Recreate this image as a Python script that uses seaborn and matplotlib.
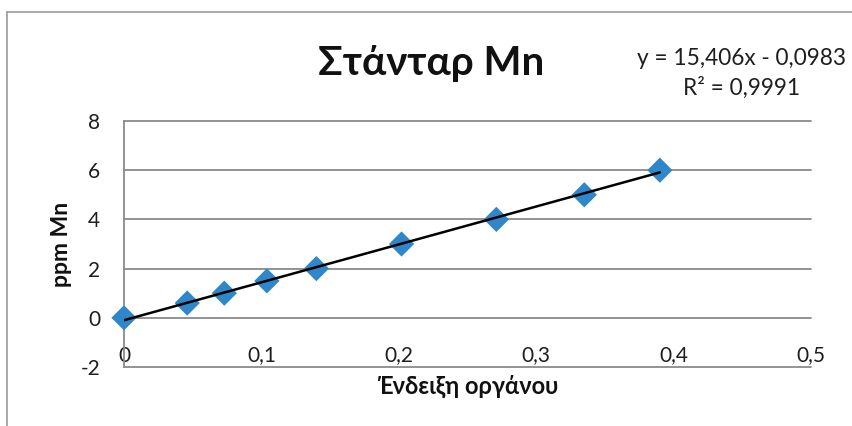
import numpy as np
import pandas as pd
import matplotlib
matplotlib.use("Agg")
import matplotlib.pyplot as plt
import seaborn as sns

# Calibration standard: instrument reading vs Mn concentration
reading = [0.0, 0.046, 0.073, 0.104, 0.140, 0.202, 0.271, 0.335, 0.390]
ppm_mn = [0.0, 0.6, 1.0, 1.5, 2.0, 3.0, 4.0, 5.0, 6.0]

# Linear trendline coefficients and fit quality
slope = 15.406
intercept = -0.0983
r_squared = 0.9991

x_ticks = [0, 0.1, 0.2, 0.3, 0.4, 0.5]
x_tick_labels = ["0", "0,1", "0,2", "0,3", "0,4", "0,5"]
y_ticks = [-2, 0, 2, 4, 6, 8]
y_tick_labels = ["-2", "0", "2", "4", "6", "8"]

title = "Στάνταρ Mn"
x_label = "Ένδειξη οργάνου"
y_label = "ppm Mn"

df = pd.DataFrame({"reading": reading, "ppm": ppm_mn})

sns.set_theme(style="white")
plt.rcParams["font.family"] = ["Lato", "DejaVu Sans"]

W, H = 852, 426
fig = plt.figure(figsize=(W / 100, H / 100), dpi=100)
ax = fig.add_axes([124 / W, 1 - 367 / H, (811 - 124) / W, (367 - 121) / H])

grid_color = "#8a8a8a"
for yv in y_ticks:
    ax.axhline(yv, color=grid_color, lw=1.3, zorder=0, clip_on=False)

sns.scatterplot(data=df, x="reading", y="ppm", marker="D", s=165,
                color="#2f86c8", edgecolor="none", ax=ax, zorder=3,
                legend=False, clip_on=False)

# Trendline over the measured range
fit_x = np.array([min(reading), max(reading)])
ax.plot(fit_x, slope * fit_x + intercept, color="black", lw=1.8, zorder=4)

ax.set_xlim(0, 0.5)
ax.set_ylim(-2, 8)

for side in ["top", "right", "bottom"]:
    ax.spines[side].set_visible(False)
ax.spines["left"].set_color(grid_color)
ax.spines["left"].set_linewidth(1.3)
ax.spines["bottom"].set_position(("data", 0))

ax.set_xticks(x_ticks)
ax.set_xticklabels(x_tick_labels)
ax.set_yticks(y_ticks)
ax.set_yticklabels(y_tick_labels)
ax.tick_params(axis="x", length=0, pad=20, labelsize=15, colors="#1e1e1e")
ax.tick_params(axis="y", length=0, pad=17, labelsize=15, colors="#1e1e1e")

ax.set_xlabel(x_label, fontsize=17, fontweight="bold", color="#111111")
ax.xaxis.set_label_coords(0.5, -(386 - 367) / (367 - 121), transform=ax.transAxes)
ax.xaxis.label.set_va("center")
ax.set_ylabel(y_label, fontsize=16.5, fontweight="bold", color="#111111")
ax.yaxis.set_label_coords(-(124 - 62) / (811 - 124), 0.5)
ax.yaxis.label.set_va("center")

fig.text(431 / W, 1 - 75 / H, title, fontsize=29, fontweight="bold",
         ha="center", va="baseline", color="#111111")

eq = f"y = {slope:.3f}x - {abs(intercept):.4f}".replace(".", ",")
r2 = f"R² = {r_squared:.4f}".replace(".", ",")
fig.text(741.5 / W, 1 - 65 / H, eq, fontsize=16.3, ha="center",
         va="baseline", color="#1e1e1e")
fig.text(741.5 / W, 1 - 95 / H, r2, fontsize=16.3, ha="center",
         va="baseline", color="#1e1e1e")

# Chart frame (top and left edges)
fig.add_artist(plt.Line2D([7 / W, 1], [1 - 12 / H] * 2, color="#999999", lw=1.2))
fig.add_artist(plt.Line2D([7 / W] * 2, [0, 1 - 12 / H], color="#999999", lw=1.2))

fig.savefig("out.png", dpi=100)
